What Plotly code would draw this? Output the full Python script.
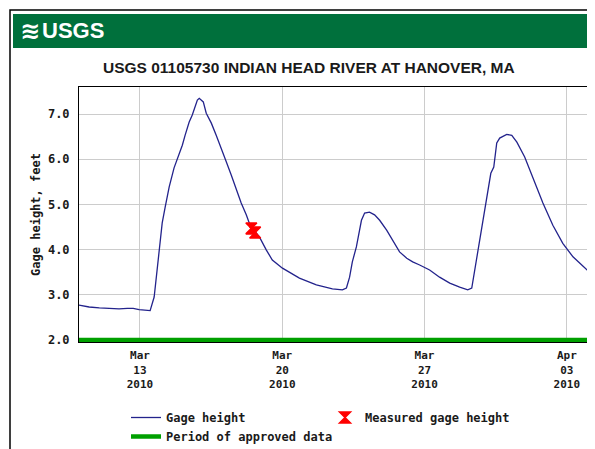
import plotly.graph_objects as go

# ---- data ----
gage_time = [
    "2010-03-10 00:00", "2010-03-10 12:00", "2010-03-11 00:00", "2010-03-11 11:30",
    "2010-03-11 23:15", "2010-03-12 09:00", "2010-03-12 16:00", "2010-03-12 23:00",
    "2010-03-13 06:00", "2010-03-13 12:00", "2010-03-13 16:45", "2010-03-13 20:15",
    "2010-03-13 22:30", "2010-03-14 02:15", "2010-03-14 05:45", "2010-03-14 10:30",
    "2010-03-14 16:15", "2010-03-14 22:15", "2010-03-15 02:00", "2010-03-15 05:15",
    "2010-03-15 10:00", "2010-03-15 13:45", "2010-03-15 16:00", "2010-03-15 19:45",
    "2010-03-15 22:00", "2010-03-16 00:15", "2010-03-16 02:45", "2010-03-16 06:15",
    "2010-03-16 12:15", "2010-03-16 18:00", "2010-03-17 00:00", "2010-03-17 06:00",
    "2010-03-17 11:45", "2010-03-17 17:45", "2010-03-17 23:30", "2010-03-18 05:30",
    "2010-03-18 09:00", "2010-03-18 15:00", "2010-03-18 21:00", "2010-03-19 05:15",
    "2010-03-19 12:15", "2010-03-20 00:15", "2010-03-20 20:15", "2010-03-21 16:15",
    "2010-03-22 11:15", "2010-03-22 23:00", "2010-03-23 03:45", "2010-03-23 07:30",
    "2010-03-23 10:45", "2010-03-23 15:30", "2010-03-23 19:15", "2010-03-23 21:30",
    "2010-03-24 01:15", "2010-03-24 07:00", "2010-03-24 13:00", "2010-03-24 19:00",
    "2010-03-25 03:15", "2010-03-25 10:15", "2010-03-25 18:30", "2010-03-26 03:00",
    "2010-03-26 10:00", "2010-03-26 18:15", "2010-03-27 06:00", "2010-03-27 17:45",
    "2010-03-28 05:45", "2010-03-28 17:30", "2010-03-29 03:00", "2010-03-29 07:45",
    "2010-03-29 11:15", "2010-03-29 17:00", "2010-03-30 01:30", "2010-03-30 06:15",
    "2010-03-30 09:45", "2010-03-30 13:15", "2010-03-30 16:45", "2010-03-31 01:00",
    "2010-03-31 07:00", "2010-03-31 13:00", "2010-03-31 22:15", "2010-04-01 08:00",
    "2010-04-01 19:45", "2010-04-02 07:30", "2010-04-02 19:15", "2010-04-03 07:15",
    "2010-04-04 01:00",
]
gage_height = [
    2.77, 2.73, 2.71, 2.70,
    2.69, 2.70, 2.70, 2.67,
    2.66, 2.65, 2.95, 3.55,
    3.99, 4.59, 4.94, 5.39,
    5.81, 6.12, 6.31, 6.53,
    6.82, 6.98, 7.09, 7.31,
    7.35, 7.31, 7.27, 7.02,
    6.80, 6.53, 6.25, 5.94,
    5.65, 5.32, 5.03, 4.77,
    4.59, 4.42, 4.28, 3.99,
    3.77, 3.59, 3.37, 3.22,
    3.13, 3.11, 3.15, 3.39,
    3.73, 4.06, 4.43, 4.65,
    4.81, 4.83, 4.77, 4.65,
    4.43, 4.21, 3.95, 3.81,
    3.73, 3.66, 3.55, 3.39,
    3.26, 3.17, 3.11, 3.15,
    3.55, 4.20, 5.10, 5.69,
    5.83, 6.36, 6.47, 6.55,
    6.53, 6.38, 6.05, 5.60,
    5.03, 4.54, 4.14, 3.84,
    3.53,
]

measured_time = ["2010-03-18 11:30", "2010-03-18 16:00"]
measured_height = [4.47, 4.38]

approved_time = ["2010-03-10 00:00", "2010-04-04 01:00"]
approved_height = [2.0, 2.0]

x_tick_vals = ["2010-03-13", "2010-03-20", "2010-03-27", "2010-04-03"]
x_tick_text = ["Mar<br>13<br>2010", "Mar<br>20<br>2010", "Mar<br>27<br>2010", "Apr<br>03<br>2010"]
y_tick_vals = [2, 3, 4, 5, 6, 7]

title_text = "USGS 01105730 INDIAN HEAD RIVER AT HANOVER, MA"
logo_icon = "≋"
logo_text = "USGS"

MONO = "DejaVu Sans Mono"
SANS = "Liberation Sans, Arial"
TXT = "#1a1a1a"

fig = go.Figure()
fig.add_trace(go.Scatter(
    x=gage_time, y=gage_height, mode="lines", name="Gage height",
    line=dict(color="#23238c", width=1.3),
))
fig.add_trace(go.Scatter(
    x=measured_time, y=measured_height, mode="markers", name="Measured gage height",
    marker=dict(symbol="hourglass", size=11, color="#ff0000",
                line=dict(color="#ff0000", width=1.5)),
))
fig.add_trace(go.Scatter(
    x=approved_time, y=approved_height, mode="lines", name="Period of approved data",
    line=dict(color="#00a000", width=4.5),
))

# the page adds an 8 px body margin, so the figure is drawn 8 px smaller
OFF = 8
W, H = 595 - OFF, 449 - OFF
PL, PR, PT, PB = 79, 588, 87, 342          # plot box in page pixels
L, T = PL - OFF, PT - OFF
R, B = W - (PR - OFF), H - (PB - OFF)
pw, ph = PR - PL, PB - PT


def px(x):
    return (x - PL) / pw


def py(y):
    return (PB - y) / ph


fig.update_layout(
    width=W, height=H,
    margin=dict(l=L, r=R, t=T, b=B, autoexpand=False),
    paper_bgcolor="white", plot_bgcolor="white",
    showlegend=True,
    legend=dict(
        orientation="h", x=px(126), xanchor="left", y=py(403), yanchor="top",
        font=dict(family=MONO, size=12, color=TXT, weight="bold"),
        entrywidth=154, entrywidthmode="pixels",
        bgcolor="rgba(0,0,0,0)", tracegroupgap=0,
    ),
    xaxis=dict(
        type="date", range=["2010-03-10 00:00", "2010-04-04 01:00"],
        tickvals=x_tick_vals, ticktext=x_tick_text,
        showgrid=True, gridcolor="#cccccc", gridwidth=1,
        showline=True, linecolor="black", linewidth=1, mirror=True,
        ticks="", ticklabelstandoff=3,
        tickfont=dict(family=MONO, size=11, color=TXT, weight="bold"),
        zeroline=False,
    ),
    yaxis=dict(
        range=[1.955, 7.6], tickvals=y_tick_vals, tickformat=".1f",
        showgrid=True, gridcolor="#cccccc", gridwidth=1,
        showline=True, linecolor="black", linewidth=1, mirror=True,
        ticks="", ticklabelstandoff=6,
        tickfont=dict(family=MONO, size=12, color=TXT, weight="bold"),
        title=dict(text="Gage height, feet", standoff=4,
                   font=dict(family=MONO, size=12, color=TXT, weight="bold")),
        zeroline=False,
    ),
    shapes=[
        dict(type="rect", xref="paper", yref="paper",
             x0=px(13), x1=px(605), y0=py(48), y1=py(14),
             fillcolor="#00703c", line=dict(width=0), layer="below"),
        dict(type="rect", xref="paper", yref="paper",
             x0=px(10), x1=px(610), y0=py(470), y1=py(10),
             fillcolor="rgba(0,0,0,0)", line=dict(color="black", width=1.5)),
    ],
    annotations=[
        dict(text=logo_icon, xref="paper", yref="paper", x=px(18), y=py(31),
             xanchor="left", yanchor="middle", showarrow=False,
             font=dict(family="DejaVu Sans", size=24, color="white", weight="bold")),
        dict(text=logo_text, xref="paper", yref="paper", x=px(40), y=py(31),
             xanchor="left", yanchor="middle", showarrow=False,
             font=dict(family=SANS, size=22, color="white", weight="bold")),
        dict(text=title_text, xref="paper", yref="paper", x=px(309), y=py(67),
             xanchor="center", yanchor="middle", showarrow=False,
             font=dict(family=SANS, size=15.5, color=TXT, weight="bold")),
    ],
)

fig.write_html("out.html")
